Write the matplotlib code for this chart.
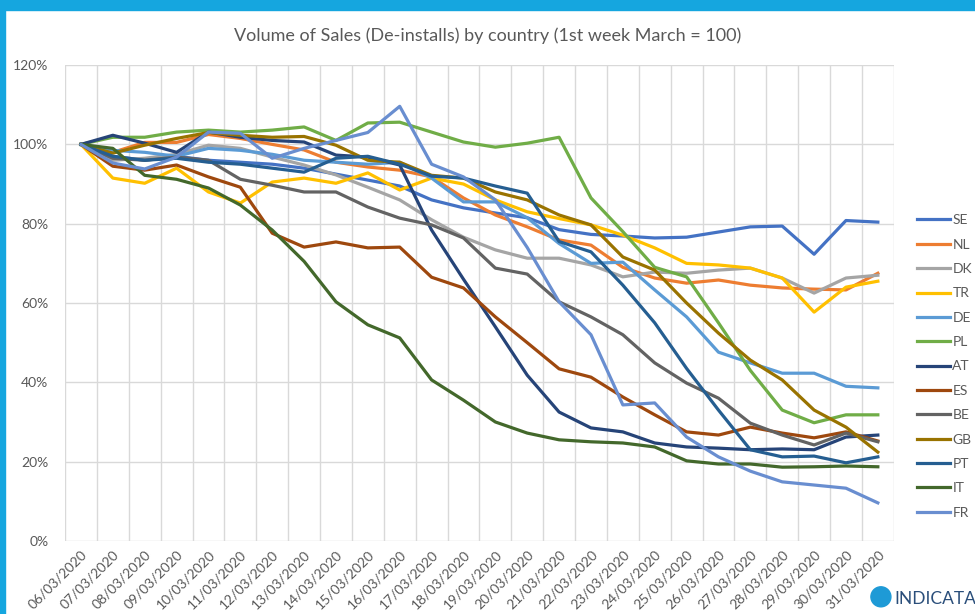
import numpy as np
import matplotlib
matplotlib.use("Agg")
import matplotlib.pyplot as plt
from matplotlib.patches import Rectangle, Ellipse

# dates on the category axis
dates = ['06/03/2020', '07/03/2020', '08/03/2020', '09/03/2020', '10/03/2020',
         '11/03/2020', '12/03/2020', '13/03/2020', '14/03/2020', '15/03/2020',
         '16/03/2020', '17/03/2020', '18/03/2020', '19/03/2020', '20/03/2020',
         '21/03/2020', '22/03/2020', '23/03/2020', '24/03/2020', '25/03/2020',
         '26/03/2020', '27/03/2020', '28/03/2020', '29/03/2020', '30/03/2020',
         '31/03/2020']

# index values in percent
SE = [100, 97, 96, 97, 96, 95.5, 95, 94, 92.5, 91, 89.5, 86, 84, 82.7, 81.5, 78.5,
      77.3, 76.9, 76.4, 76.6, 77.9, 79.2, 79.4, 72.3, 80.8, 80.4]
NL = [100, 98, 100.5, 100.5, 102.5, 101.5, 100, 98.6, 95.5, 94.3, 93.5, 91.8, 86.5,
      82.2, 79.2, 75.9, 74.6, 69, 66.3, 65, 65.8, 64.5, 63.8, 63.5, 63.3, 67.5]
DK = [100, 96, 96.5, 97.5, 99.8, 99, 96.8, 94.8, 92.3, 89.2, 86, 81, 76.6, 73.4,
      71.3, 71.3, 69.6, 66.6, 67.8, 67.5, 68.3, 68.8, 66.3, 62.5, 66.3, 67]
TR = [100, 91.5, 90.2, 94, 88, 85.2, 90.5, 91.5, 90.2, 92.8, 88.5, 91.5, 90, 86,
      83, 81.3, 79.7, 77.1, 73.9, 70, 69.6, 68.8, 66.3, 57.7, 64, 65.5]
DE = [100, 98.5, 98, 97, 99, 98.5, 97.5, 96, 95.5, 95, 95.5, 91.5, 85.5, 85.5,
      81.5, 75, 70, 70.3, 63.3, 56.5, 47.6, 44.9, 42.3, 42.3, 39, 38.6]
PL = [100, 101.8, 101.8, 103.1, 103.6, 103.1, 103.6, 104.4, 101, 105.4, 105.6, 103.1,
      100.6, 99.3, 100.3, 101.8, 86.5, 78, 69, 66.6, 55, 43, 33, 29.8, 31.8, 31.8]
AT = [100, 102.3, 100.3, 98, 103.1, 101.8, 101, 100.6, 97.3, 96.8, 94.8, 78.4, 66,
      54, 41.8, 32.5, 28.5, 27.5, 24.7, 23.7, 23.4, 23, 23.2, 23, 26.2, 26.7]
ES = [100, 94.5, 93.5, 94.8, 91.8, 89.2, 77.6, 74.1, 75.4, 73.9, 74.1, 66.5, 63.8,
      56.5, 50, 43.4, 41.3, 36.3, 31.8, 27.5, 26.7, 28.7, 27.2, 26, 27.5, 25.2]
BE = [100, 96.5, 96, 96.8, 96, 91.2, 89.7, 88, 88, 84.2, 81.4, 79.7, 76.4, 68.8,
      67.3, 60.3, 56.5, 52, 44.9, 39.8, 36, 29.7, 26.7, 24.2, 27.2, 25]
GB = [100, 97.8, 99.8, 101.5, 103, 102.3, 101.8, 102, 99.8, 96, 95.5, 92.2, 91.5,
      88, 86, 82.2, 79.7, 71.6, 68.3, 60, 52.4, 45.6, 40.6, 33, 28.7, 22.4]
PT = [100, 97, 96, 96.5, 95.5, 95, 94, 93, 96.5, 97, 95, 92, 91.5, 89.5, 87.7,
      75.5, 72.9, 64.5, 55, 43.5, 33, 23, 21.2, 21.4, 19.7, 21.2]
IT = [100, 99, 92.2, 91.2, 89, 84.7, 78.4, 70.5, 60.3, 54.5, 51.2, 40.6, 35.5, 30,
      27.2, 25.5, 25, 24.7, 23.7, 20.2, 19.4, 19.4, 18.6, 18.7, 18.9, 18.7]
FR = [100, 95.3, 93.8, 96.8, 103.1, 102.8, 96.5, 99, 101, 103, 109.6, 95, 91.8,
      86, 74, 60.3, 52, 34.3, 34.8, 26.2, 21.2, 17.6, 14.9, 14.1, 13.3, 9.6]

countries = ['SE', 'NL', 'DK', 'TR', 'DE', 'PL', 'AT', 'ES', 'BE', 'GB', 'PT', 'IT', 'FR']
series = [SE, NL, DK, TR, DE, PL, AT, ES, BE, GB, PT, IT, FR]
colors = ['#4472C4', '#ED7D31', '#A5A5A5', '#FFC000', '#5B9BD5', '#70AD47',
          '#264478', '#9E480E', '#636363', '#997300', '#255E91', '#43682B', '#698ED0']

plt.rcParams['font.family'] = ['Lato', 'DejaVu Sans']
txt = '#595959'
grid_c = '#D9D9D9'

fig = plt.figure(figsize=(9.75, 6.14), dpi=100)
ax = fig.add_axes([0.0667, 0.119, 0.850, 0.775])

x = np.arange(len(dates))
for name, vals, c in zip(countries, series, colors):
    ax.plot(x, vals, color=c, lw=2.3, label=name, solid_joinstyle='round')

ax.set_xlim(-0.5, len(dates) - 0.5)
ax.set_ylim(0, 120)
ax.set_yticks(np.arange(0, 121, 20))
ax.set_yticklabels([f'{v}%' for v in range(0, 121, 20)])
ax.set_xticks(x)
ax.set_xticklabels(dates, rotation=45, ha='right', rotation_mode='anchor')
ax.set_xticks(np.arange(-0.5, len(dates), 1), minor=True)

ax.grid(True, which='major', axis='y', color=grid_c, lw=1)
ax.grid(True, which='minor', axis='x', color=grid_c, lw=1)
ax.set_axisbelow(True)
for s in ax.spines.values():
    s.set_visible(False)
ax.tick_params(which='both', length=0)
ax.tick_params(axis='y', pad=12, labelsize=10, colors=txt)
ax.tick_params(axis='x', pad=5, labelsize=10, colors=txt)

ax.set_title('Volume of Sales (De-installs) by country (1st week March = 100)',
             color=txt, fontsize=13, pad=17, x=0.51)

fig.legend(loc='upper left', bbox_to_anchor=(0.9405, 0.651), frameon=False,
           borderpad=0, borderaxespad=0, handlelength=2.4, handletextpad=0.15,
           labelspacing=0.89, fontsize=10, labelcolor=txt)

# blue banner frame and logo like the screenshot
fig.patches.append(Rectangle((0, 0.983), 1, 0.017, transform=fig.transFigure,
                             color='#15A6DF', zorder=0))
fig.patches.append(Rectangle((0, 0), 0.005, 1, transform=fig.transFigure,
                             color='#15A6DF', zorder=0))
fig.patches.append(Ellipse((0.9035, 0.028), 0.0205, 0.0326, transform=fig.transFigure,
                           color='#1E9AD6', zorder=1))
fig.text(0.917, 0.016, 'INDICATA', color='#2A4E7A', fontsize=12.5, ha='left')

fig.savefig('out.png', dpi=100)
